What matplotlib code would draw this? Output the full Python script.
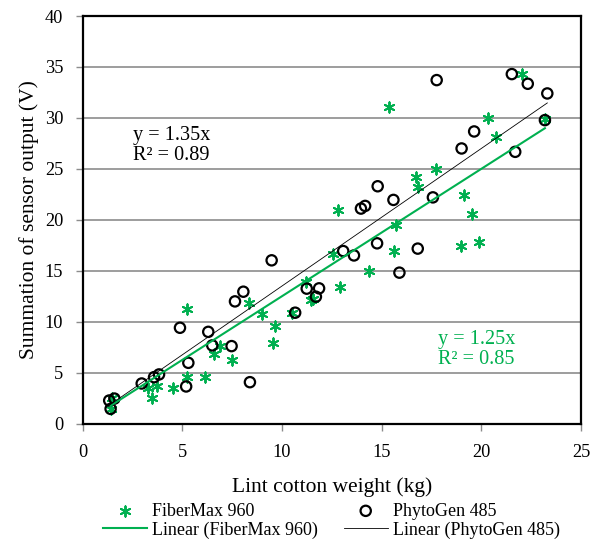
import matplotlib.pyplot as plt
from matplotlib import rc
import numpy as np

output_figure_name = "out.png"

# FiberMax 960 (lint weight kg, sensor sum V)
fm_x = [1.45, 1.40, 3.30, 3.46, 3.75, 4.55, 5.22, 5.25, 6.13, 6.61, 6.89, 7.50,
        8.36, 8.98, 9.65, 9.53, 10.49, 11.21, 11.44, 11.53, 12.54, 12.83, 12.91,
        14.38, 15.39, 15.63, 15.72, 16.71, 16.84, 17.72, 18.99, 19.15, 19.55,
        19.88, 20.31, 20.72, 22.06, 23.19]
fm_y = [2.52, 1.38, 3.50, 2.52, 3.67, 3.44, 11.2, 4.59, 4.59, 6.78, 7.60, 6.22,
        11.86, 10.71, 9.56, 7.93, 10.88, 13.89, 12.12, 12.19, 16.61, 20.93, 13.40,
        14.97, 31.03, 16.93, 19.49, 24.2, 23.22, 25.03, 17.43, 22.41, 20.54,
        17.82, 29.98, 28.08, 34.3, 29.88]

# PhytoGen 485
pg_x = [1.33, 1.40, 1.59, 2.96, 3.58, 3.83, 4.88, 5.19, 5.30, 6.30, 6.50, 7.47,
        7.64, 8.06, 8.39, 9.48, 10.66, 11.24, 11.70, 11.86, 13.07, 13.61, 13.96,
        14.17, 14.77, 14.80, 15.59, 15.89, 16.81, 17.57, 17.76, 19.01, 19.64,
        21.53, 21.70, 22.33, 23.19, 23.31]
pg_y = [2.26, 1.44, 2.45, 3.93, 4.55, 4.82, 9.40, 3.64, 5.96, 9.00, 7.67, 7.60,
        11.99, 12.94, 4.06, 16.02, 10.88, 13.24, 12.45, 13.27, 16.93, 16.50, 21.10,
        21.36, 17.69, 23.29, 21.95, 14.81, 17.17, 22.20, 33.71, 27.00, 28.67,
        34.30, 26.67, 33.35, 29.78, 32.40]

fm_slope = 1.25
pg_slope = 1.35

green = '#00B050'

rc('font', family='serif', serif=['Liberation Serif', 'DejaVu Serif'], size=13)

fig = plt.figure(figsize=(5.92, 5.43), dpi=100)
ax = fig.add_axes([0.1397, 0.22, 0.8417, 0.7505])

# horizontal gridlines
ax.set_axisbelow(True)
ax.yaxis.grid(True, color='#8c8c8c', linewidth=1.2)

# data
fm_pts = ax.scatter(fm_x, fm_y, marker=(6, 2, 0), s=55, color=green,
                    linewidths=1.4, zorder=3)
pg_pts = ax.scatter(pg_x, pg_y, marker='o', s=55, facecolors='none',
                    edgecolors='black', linewidths=1.6, zorder=3)

# trendlines through origin
xf = np.array([min(fm_x), max(fm_x)])
xp = np.array([min(pg_x), max(pg_x)])
fm_line, = ax.plot(xf, fm_slope * xf, color=green, linewidth=1.5, zorder=4)
pg_line, = ax.plot(xp, pg_slope * xp, color='black', linewidth=0.6, zorder=4)

ax.text(2.5, 27.3, 'y = 1.35x\nR² = 0.89', fontsize=14.6, va='center',
        ha='left', linespacing=1.05)
ax.text(17.85, 7.3, 'y = 1.25x\nR² = 0.85', fontsize=14.6, va='center',
        ha='left', color=green, linespacing=1.05)

ax.set_xlim(0, 25)
ax.set_ylim(0, 40)
ax.set_xticks(range(0, 26, 5))
ax.set_yticks(range(0, 41, 5))

for s in ax.spines.values():
    s.set_linewidth(1.6)
    s.set_color('black')

ax.tick_params(axis='both', direction='out', length=5, width=1,
               color='#8c8c8c', labelsize=13.2)
ax.tick_params(axis='x', pad=9.5)
ax.tick_params(axis='y', pad=9)

ax.set_xlabel('Lint cotton weight (kg)', fontsize=15.5, labelpad=12)
ax.set_ylabel('Summation of sensor output (V)', fontsize=15.5, labelpad=4)

handles = [fm_pts, fm_line, pg_pts, pg_line]
labels = ['FiberMax 960', 'Linear (FiberMax 960)',
          'PhytoGen 485', 'Linear (PhytoGen 485)']
fig.legend(handles, labels, ncol=2, loc='lower center',
           bbox_to_anchor=(0.56, -0.022), frameon=False, fontsize=13,
           handlelength=2.45, columnspacing=1.4, handletextpad=0.3,
           labelspacing=0.1)

plt.savefig(output_figure_name, dpi=100)
